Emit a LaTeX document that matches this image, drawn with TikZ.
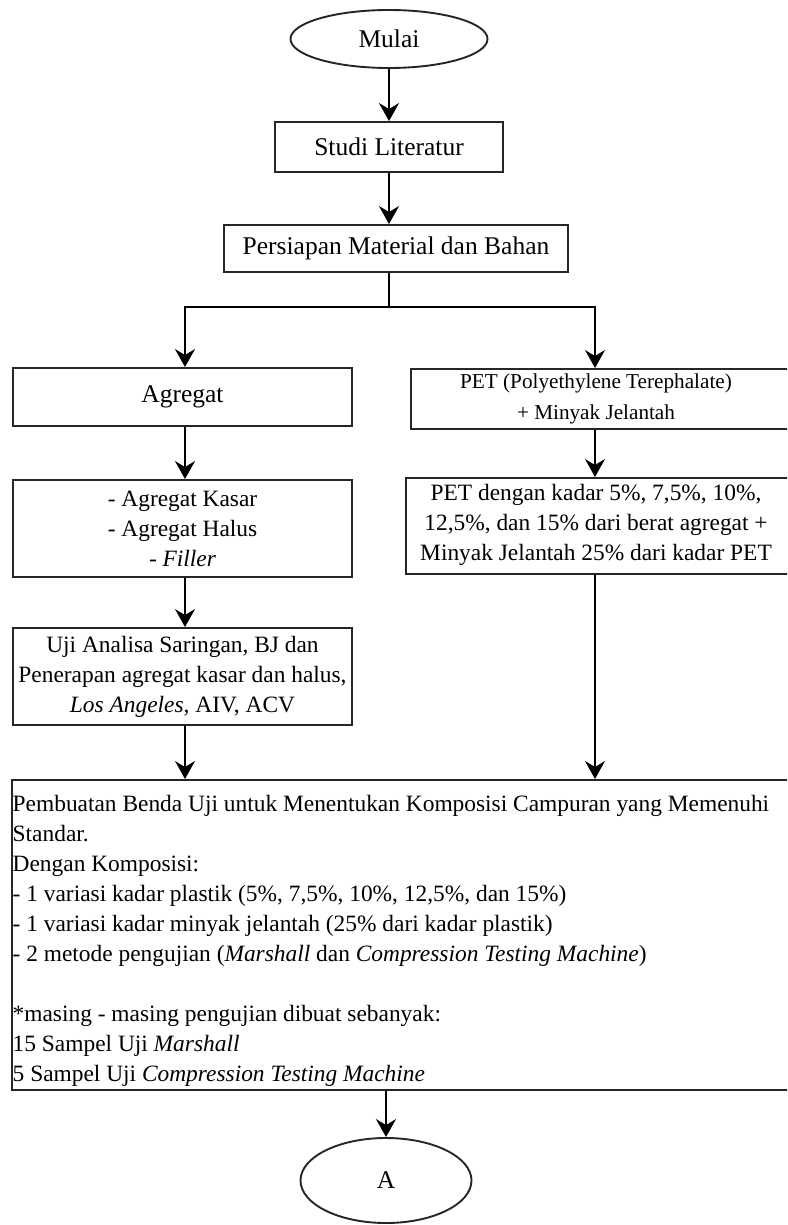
\documentclass[tikz,border=0pt]{standalone}
\usepackage{fontspec}
\setmainfont{Liberation Serif}
\usetikzlibrary{arrows.meta,shapes.geometric}
\tikzset{
  boxline/.style={draw=black!85, line width=1.9pt},
  bigfont/.style={font=\fontsize{25.5}{30}\selectfont},
  midfont/.style={font=\fontsize{23.4}{30}\selectfont},
  smallfont/.style={font=\fontsize{21.2}{31}\selectfont},
  termnode/.style={boxline, ellipse, inner sep=0pt, bigfont},
  stepbox/.style={boxline, rectangle, inner sep=0pt},
  txt/.style={inner sep=0pt, align=center},
  arr/.style={draw=black, line width=1.8pt, -{Stealth[length=18pt,width=20pt,inset=6pt]}},
  plain/.style={draw=black, line width=1.8pt}
}
\begin{document}
\begin{tikzpicture}[x=1pt,y=-1pt]
\useasboundingbox (0,0) rectangle (787,1225);
\clip (0,0) rectangle (787,1225);

% terminals
\node[termnode, minimum width=197pt, minimum height=58pt] (mulai) at (389,39) {Mulai};
\node[termnode, minimum width=171pt, minimum height=85pt] (a) at (386,1180.5) {A};

% top boxes
\node[stepbox, bigfont, minimum width=228pt, minimum height=50pt] (studi) at (389,147) {Studi Literatur};
\node[stepbox, bigfont, minimum width=344pt, minimum height=47pt] (persiapan) at (396,248.5) {Persiapan Material dan Bahan};

% left column
\node[stepbox, bigfont, minimum width=339pt, minimum height=58pt] (agregat) at (182.5,397) {Agregat};
\node[stepbox, midfont, align=center, minimum width=339pt, minimum height=97pt] (list) at (182.5,528.5)
  {- Agregat Kasar\\- Agregat Halus\\- \textit{Filler}};
\node[stepbox, midfont, align=center, minimum width=339pt, minimum height=97pt] (uji) at (182.5,676.5)
  {Uji Analisa Saringan, BJ dan\\Penerapan agregat kasar dan halus,\\\textit{Los Angeles}, AIV, ACV};

% right column (boxes run past the right edge)
\node[stepbox, anchor=north west, minimum width=400pt, minimum height=60pt] (pet) at (410,368) {};
\node[txt, smallfont] (pettxt) at (596,399) {PET (Polyethylene Terephalate)\\+ Minyak Jelantah};
\node[stepbox, anchor=north west, minimum width=405pt, minimum height=96pt] (petd) at (405,477) {};
\node[txt, midfont] (petdtxt) at (596,525)
  {PET dengan kadar 5\%, 7,5\%, 10\%,\\12,5\%, dan 15\% dari berat agregat +\\Minyak Jelantah 25\% dari kadar PET};

% big box
\node[stepbox, anchor=north west, minimum width=810pt, minimum height=310pt] (big) at (11,779) {};
\node[inner sep=0pt, align=left, anchor=north west, midfont] (bigtxt) at (12.5,790)
  {\strut Pembuatan Benda Uji untuk Menentukan Komposisi Campuran yang Memenuhi\\
   Standar.\\
   Dengan Komposisi:\\
   - 1 variasi kadar plastik (5\%, 7,5\%, 10\%, 12,5\%, dan 15\%)\\
   - 1 variasi kadar minyak jelantah (25\% dari kadar plastik)\\
   - 2 metode pengujian (\textit{Marshall} dan \textit{Compression Testing Machine})\\[30pt]
   *masing - masing pengujian dibuat sebanyak:\\
   15 Sampel Uji \textit{Marshall}\\
   5 Sampel Uji \textit{Compression Testing Machine}};

% split coordinates
\coordinate (sp) at (389,307);
\coordinate (spL) at (185,307);
\coordinate (spR) at (595,307);

% connectors
\draw[arr] (mulai.south) -- (studi.north -| mulai.south);
\draw[arr] (studi.south) -- (persiapan.north -| studi.south);
\draw[plain] (persiapan.south -| sp) -- (sp);
\draw[plain, line cap=rect] (spL) -- (spR);
\draw[arr] (spL) -- (spL |- agregat.north);
\draw[arr] (spR) -- (spR |- pet.north);
\draw[arr] (agregat.south -| spL) -- (list.north -| spL);
\draw[arr] (pet.south -| spR) -- (petd.north -| spR);
\draw[arr] (list.south -| spL) -- (uji.north -| spL);
\draw[arr] (uji.south -| spL) -- (big.north -| spL);
\draw[arr] (petd.south -| spR) -- (big.north -| spR);
\draw[arr] (big.south -| a.north) -- (a.north);
\end{tikzpicture}
\end{document}
